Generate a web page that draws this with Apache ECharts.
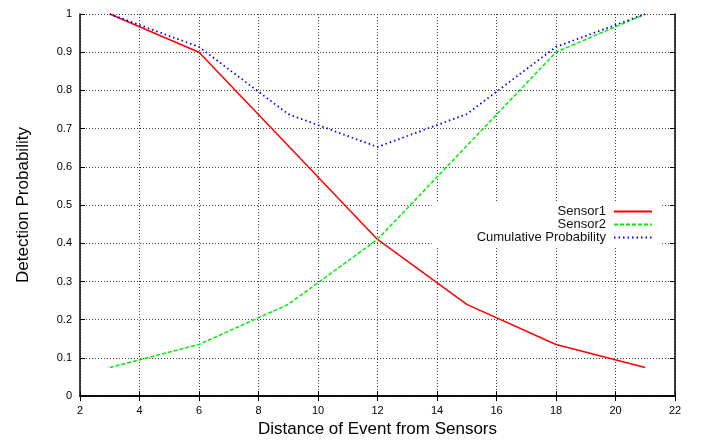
<!DOCTYPE html>
<html>
<head>
<meta charset="utf-8">
<script src="https://cdn.jsdelivr.net/npm/echarts@6/dist/echarts.min.js"></script>
<style>
  html, body { margin: 0; padding: 0; background: #fff; }
  #chart { width: 718px; height: 443px; }
</style>
</head>
<body>
<div id="chart"></div>
<script>
// distances where the probability was evaluated
const distances = [3, 6, 9, 12, 15, 18, 21];
const sensor1 = [1, 0.9, 0.655, 0.41, 0.24, 0.135, 0.075];
const sensor2 = [0.075, 0.135, 0.24, 0.41, 0.655, 0.9, 1];
const cumulative = [1, 0.914, 0.738, 0.652, 0.738, 0.914, 1];
const seriesNames = ['Sensor1', 'Sensor2', 'Cumulative Probability'];

const font = 'Liberation Sans, Arial, Helvetica, sans-serif';

const pairs = (ys) => distances.map((x, i) => [x, ys[i]]);

const chart = echarts.init(document.getElementById('chart'), null, { renderer: 'canvas' });

const gridLine = {
    show: true,
    lineStyle: { color: '#444', type: [1, 2], width: 1 }
};

const tickStyle = { inside: true, length: 5, lineStyle: { color: '#000', width: 1 } };

chart.setOption({
    animation: false,
    backgroundColor: '#fff',
    textStyle: { fontFamily: font },
    grid: { left: 80, right: 43, top: 14, bottom: 40, show: false },
    legend: {
        orient: 'vertical',
        align: 'right',
        right: 58,
        top: 202,
        padding: [3, 7, 3, 45],
        backgroundColor: '#fff',
        itemWidth: 38,
        itemHeight: 8,
        itemGap: 0,
        data: seriesNames,
        // only the line sample, no point symbol
        itemStyle: { opacity: 0 },
        textStyle: { fontFamily: font, fontSize: 13, color: '#111', lineHeight: 12, padding: [0, 3, 0, 0] }
    },
    xAxis: [{
        type: 'value',
        min: 2,
        max: 22,
        interval: 2,
        name: 'Distance of Event from Sensors',
        nameLocation: 'middle',
        nameGap: 19,
        nameTextStyle: { fontSize: 17, color: '#000', fontFamily: font },
        axisLine: { show: true, lineStyle: { color: '#000', width: 1.5 } },
        axisTick: tickStyle,
        axisLabel: { fontSize: 11, color: '#000', margin: 9 },
        splitLine: gridLine
    }, {
        type: 'value',
        position: 'top',
        min: 2,
        max: 22,
        interval: 2,
        axisLine: { show: true, lineStyle: { color: '#000', width: 1.5 } },
        axisTick: tickStyle,
        axisLabel: { show: false },
        splitLine: { show: false }
    }],
    yAxis: [{
        type: 'value',
        min: 0,
        max: 1,
        interval: 0.1,
        name: 'Detection Probability',
        nameLocation: 'middle',
        nameGap: 48,
        nameTextStyle: { fontSize: 17, color: '#000', fontFamily: font },
        axisLine: { show: true, lineStyle: { color: '#000', width: 1.5 } },
        axisTick: tickStyle,
        axisLabel: { fontSize: 11, color: '#000', margin: 8 },
        splitLine: gridLine
    }, {
        type: 'value',
        position: 'right',
        min: 0,
        max: 1,
        interval: 0.1,
        axisLine: { show: true, lineStyle: { color: '#000', width: 1.5 } },
        axisTick: tickStyle,
        axisLabel: { show: false },
        splitLine: { show: false }
    }],
    series: [{
        name: seriesNames[0],
        type: 'line',
        symbol: 'none',
        data: pairs(sensor1),
        itemStyle: { color: '#ff0000' },
        lineStyle: { color: '#ff0000', width: 1.5 }
    }, {
        name: seriesNames[1],
        type: 'line',
        symbol: 'none',
        data: pairs(sensor2),
        itemStyle: { color: '#00ee00' },
        lineStyle: { color: '#00ee00', width: 1.5, type: [4, 2] }
    }, {
        name: seriesNames[2],
        type: 'line',
        symbol: 'none',
        data: pairs(cumulative),
        itemStyle: { color: '#0000ff' },
        lineStyle: { color: '#0000ff', width: 1.8, type: [1.5, 3] }
    }]
});
</script>
</body>
</html>
